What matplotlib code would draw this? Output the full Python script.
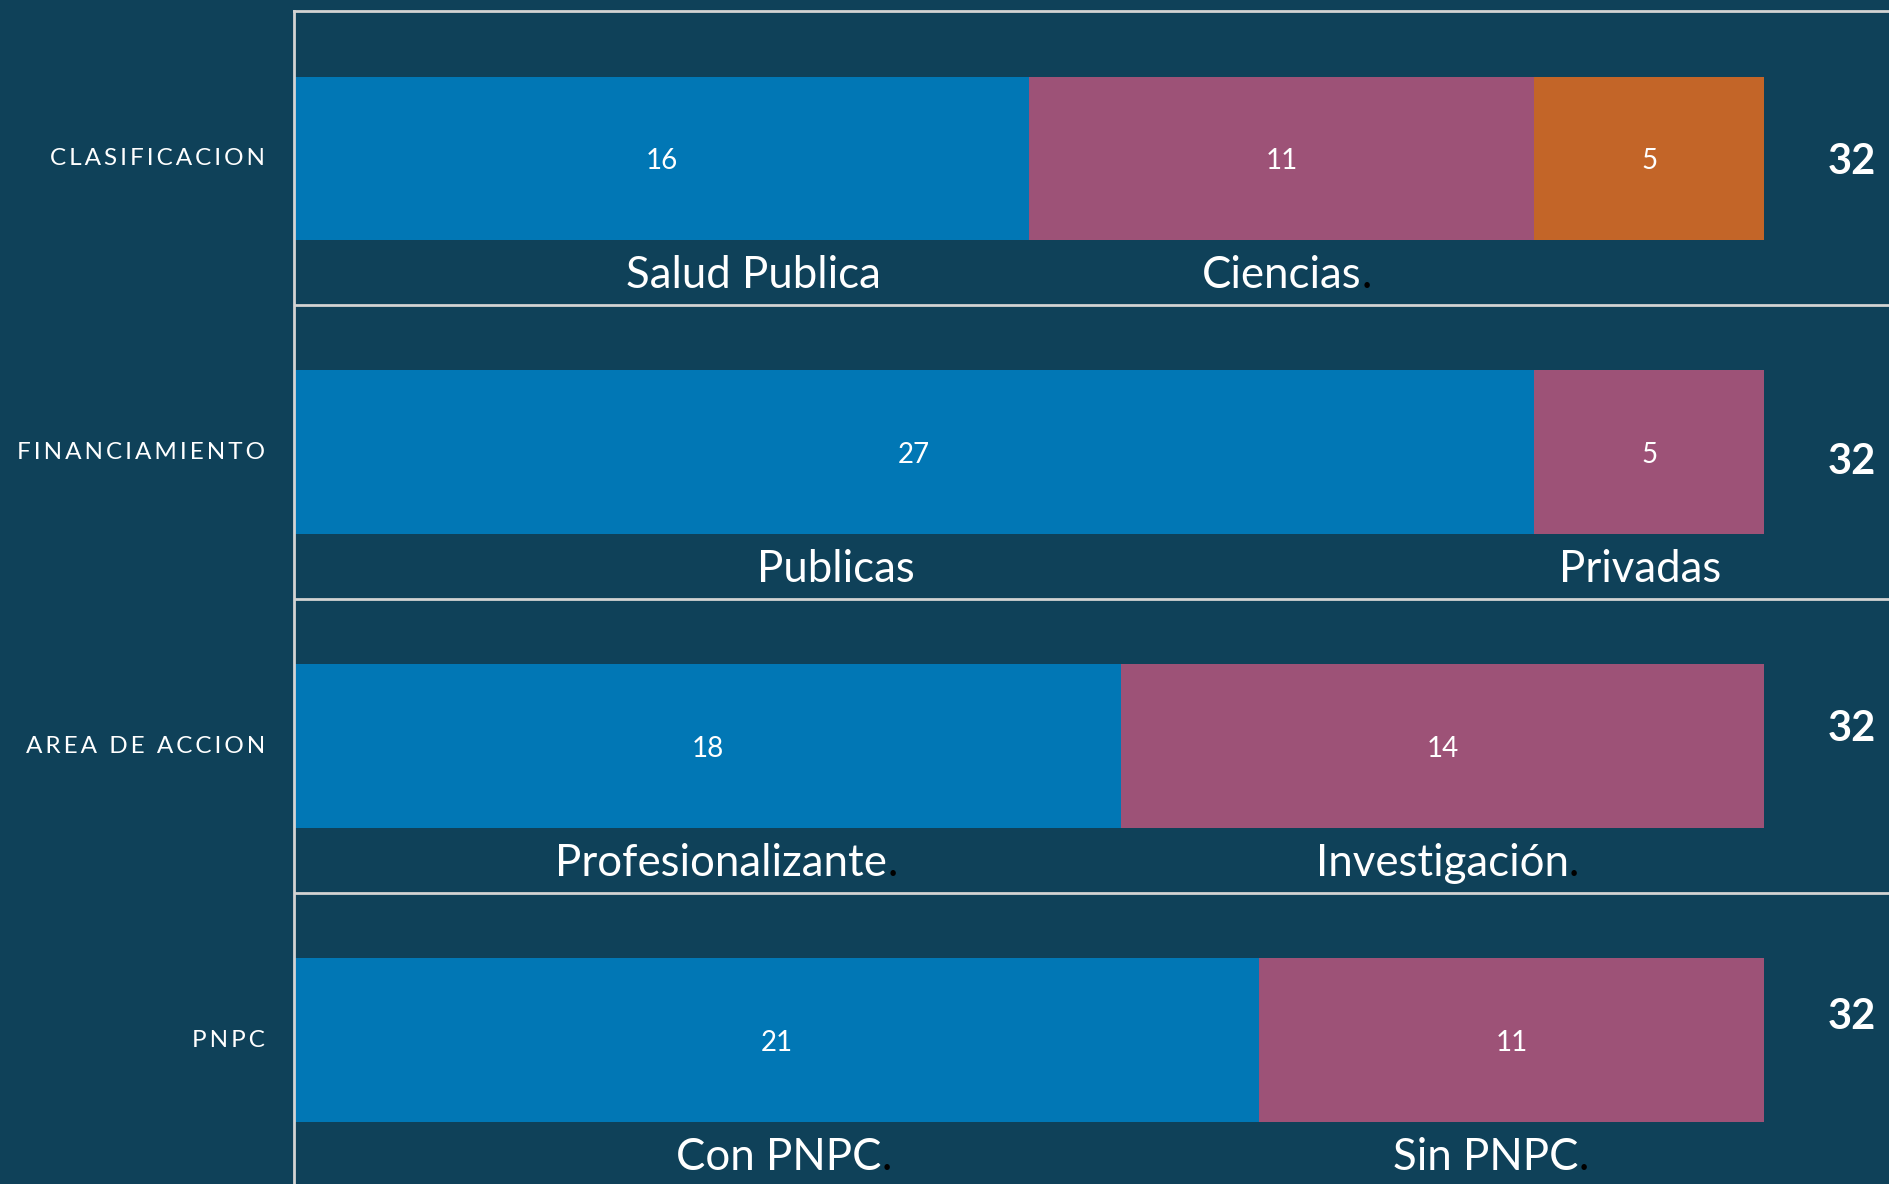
import numpy as np
import matplotlib
matplotlib.use("Agg")
import matplotlib.pyplot as plt
from matplotlib.transforms import blended_transform_factory

plt.rcParams["font.family"] = ["Lato", "DejaVu Sans"]

# data
groups = ["CLASIFICACION", "FINANCIAMIENTO", "AREA DE ACCION", "PNPC"]
seg_values = [[16, 11, 5], [27, 5], [18, 14], [21, 11]]
seg_labels = [
    ["Salud Publica", "Ciencias.", ""],
    ["Publicas", "Privadas"],
    ["Profesionalizante.", "Investigación."],
    ["Con PNPC.", "Sin PNPC."],
]

# style / layout
bg = "#0F4159"
seg_colors = ["#0177B5", "#9D5277", "#C36528"]
line_col = "#D3D3D3"
label_dx = [[2.0, 0.0, 0.0], [-1.7, -0.2], [0.3, 0.0], [0.05, -0.55]]
total_dy = [0.01, 0.03, -0.06, -0.08]

fig = plt.figure(figsize=(18.9, 11.849), dpi=100, facecolor=bg)
ax = fig.add_axes([294 / 1890, 0, 1 - 294 / 1890, 1 - 12 / 1185])
ax.set_facecolor(bg)
ax.set_xlim(0, 34.74)
ax.set_ylim(3.49, -0.5)

for i, vals in enumerate(seg_values):
    left = 0
    for j, v in enumerate(vals):
        ax.barh(i, v, left=left, height=0.555, color=seg_colors[j], linewidth=0)
        ax.text(left + v / 2, i + 0.008, str(v), color="white", fontsize=20,
                ha="center", va="center")
        lab = seg_labels[i][j]
        if lab:
            dot = lab.endswith(".")
            word = lab[:-1] if dot else lab
            t = ax.text(left + v / 2 + label_dx[i][j], i + 0.44, word,
                        color="white", fontsize=31.5, ha="center", va="baseline")
            if dot:
                ax.annotate(".", xy=(1, 0), xycoords=t, color="black",
                            fontsize=31.5, ha="left", va="bottom")
        left += v
    ax.text(33.91, i + total_dy[i], str(sum(vals)), color="white",
            fontsize=30, fontweight="bold", ha="center", va="center")

# group labels on the left
trans = blended_transform_factory(fig.transFigure, ax.transData)
for i, g in enumerate(groups):
    ax.text(265 / 1890, i, "\u2009".join(g), transform=trans, color="white",
            fontsize=17.5, ha="right", va="center", clip_on=False)

# separators
for y in np.arange(0.5, len(groups) - 0.5, 1):
    ax.axhline(y, color=line_col, linewidth=2)
for s in ["right", "bottom"]:
    ax.spines[s].set_visible(False)
for s in ["left", "top"]:
    ax.spines[s].set_color(line_col)
    ax.spines[s].set_linewidth(2)
ax.set_xticks([])
ax.set_yticks([])

fig.savefig("out.png", dpi=100, facecolor=bg)
